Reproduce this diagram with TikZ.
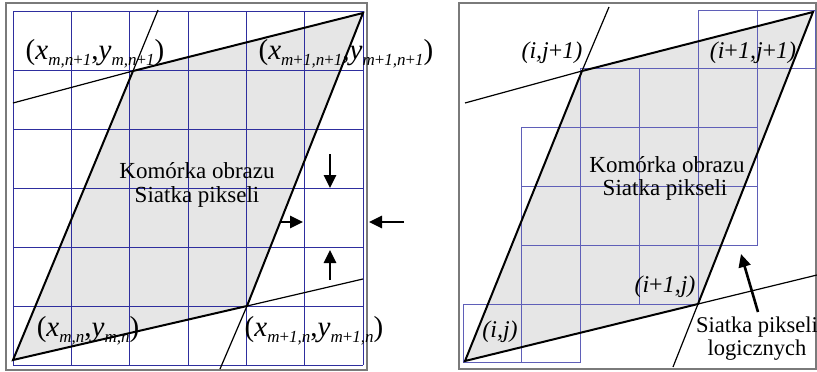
\documentclass[tikz,border=0pt]{standalone}
\usepackage{fontspec}
\setmainfont{Liberation Serif}
\usetikzlibrary{arrows.meta}
\definecolor{gridA}{HTML}{2E2E9E}
\definecolor{gridB}{HTML}{5F5FB8}
\definecolor{cellfill}{HTML}{E6E6E6}
\definecolor{framegray}{HTML}{7A7A7A}
\newcommand\mysub[1]{\raisebox{-0.22em}{\fontsize{17}{17}\selectfont\itshape #1}}
\newcommand\pl{{\upshape+}}
\begin{document}
\begin{tikzpicture}[x=1pt,y=-1pt,
  frame/.style={draw=framegray,line width=1.5pt},
  cell/.style={fill=cellfill},
  gridlineA/.style={draw=gridA,line width=0.9pt},
  gridlineB/.style={draw=gridB,line width=1pt},
  edge/.style={draw=black,line width=2pt,line join=miter},
  ext/.style={draw=black,line width=1.2pt},
  bigarrow/.style={draw=black,line width=2.6pt,-{Triangle[length=13pt,width=12pt]}},
  lbl/.style={inner sep=0pt,anchor=base,font=\fontsize{29}{30}\selectfont},
  lblr/.style={inner sep=0pt,anchor=base,font=\fontsize{24}{26}\selectfont\itshape},
  txt/.style={inner sep=0pt,anchor=base,font=\fontsize{23}{24}\selectfont}]
\useasboundingbox (0,0) rectangle (817,372);

% ---------------- left panel ----------------
\coordinate (BLa) at (13,360);
\coordinate (TLa) at (133,71);
\coordinate (TRa) at (363,13);
\coordinate (BRa) at (247,306);
\coordinate (eLa) at (158,10);
\coordinate (eTa) at (13,103);
\coordinate (eBa) at (363,279);
\coordinate (eRa) at (220,369);

\draw[frame] (6,3) rectangle (367,370);
\fill[cell] (BLa) -- (TLa) -- (TRa) -- (BRa) -- cycle;
\foreach \i in {0,...,6} {
  \draw[gridlineA] ({13+58.33*\i},11) -- ({13+58.33*\i},365);
  \draw[gridlineA] (13,{11+59*\i}) -- (363,{11+59*\i});
}
\draw[ext] (TLa) -- (eLa);
\draw[ext] (TLa) -- (eTa);
\draw[ext] (BRa) -- (eBa);
\draw[ext] (BRa) -- (eRa);
\draw[edge] (BLa) -- (TLa) -- (TRa) -- (BRa) -- cycle;

\coordinate (dA1) at (330,154); \coordinate (dA2) at (330,188);
\coordinate (rA1) at (280,222); \coordinate (rA2) at (303,222);
\coordinate (uA1) at (330,280); \coordinate (uA2) at (330,250);
\coordinate (lA1) at (404,222); \coordinate (lA2) at (369,222);
\draw[bigarrow] (dA1) -- (dA2);
\draw[bigarrow] (rA1) -- (rA2);
\draw[bigarrow] (uA1) -- (uA2);
\draw[bigarrow] (lA1) -- (lA2);

\node[lbl] (la) at (95,59) {(\textit{x}\mysub{m,n\pl1},\textit{y}\mysub{m,n\pl1})};
\node[lbl] (lb) at (346,59) {(\textit{x}\mysub{m\pl1,n\pl1},\textit{y}\mysub{m\pl1,n\pl1})};
\node[lbl] (lc) at (88,336) {(\textit{x}\mysub{m,n},\textit{y}\mysub{m,n})};
\node[lbl] (ld) at (314,336) {(\textit{x}\mysub{m\pl1,n},\textit{y}\mysub{m\pl1,n})};
\node[txt] (ka) at (197,178) {Komórka obrazu};
\node[txt] (sa) at (197,202) {Siatka pikseli};

% ---------------- right panel ----------------
\coordinate (BLb) at (465,361);
\coordinate (TLb) at (582,71);
\coordinate (TRb) at (813,12);
\coordinate (BRb) at (698,304);
\coordinate (eLb) at (609,7);
\coordinate (eTb) at (465,103);
\coordinate (eBb) at (817,275);
\coordinate (eRb) at (673,367);

\draw[frame] (459,3) rectangle (816,369);
\fill[cell] (BLb) -- (TLb) -- (TRb) -- (BRb) -- cycle;
\foreach \c/\r in {4/0,5/0,2/1,3/1,4/1,1/2,2/2,3/2,4/2,1/3,2/3,3/3,4/3,1/4,2/4,3/4,0/5,1/5} {
  \draw[gridlineB] ({463+58.8*\c},{10+58.8*\r}) rectangle ({463+58.8*(\c+1)},{10+58.8*(\r+1)});
}
\draw[ext] (TLb) -- (eLb);
\draw[ext] (TLb) -- (eTb);
\draw[ext] (BRb) -- (eBb);
\draw[ext] (BRb) -- (eRb);
\draw[edge] (BLb) -- (TLb) -- (TRb) -- (BRb) -- cycle;

\node[lblr] (ra) at (552,58) {({i},{j}\pl1)};
\node[lblr] (rb) at (753,58) {({i}\pl1,{j}\pl1)};
\node[lblr] (rc) at (665,292) {({i}\pl1,{j})};
\node[lblr] (rd) at (500,337) {({i},{j})};
\node[txt] (kb) at (667,172) {Komórka obrazu};
\node[txt] (sb) at (665,195) {Siatka pikseli};
\node[txt,font=\fontsize{22.5}{24}\selectfont] (sc) at (757,332) {Siatka pikseli};
\node[txt,font=\fontsize{22.5}{24}\selectfont] (lg) at (757,355) {logicznych};
\coordinate (aR1) at (758,312);
\coordinate (aR2) at (741,254);
\draw[bigarrow] (aR1) -- (aR2);
\end{tikzpicture}
\end{document}
